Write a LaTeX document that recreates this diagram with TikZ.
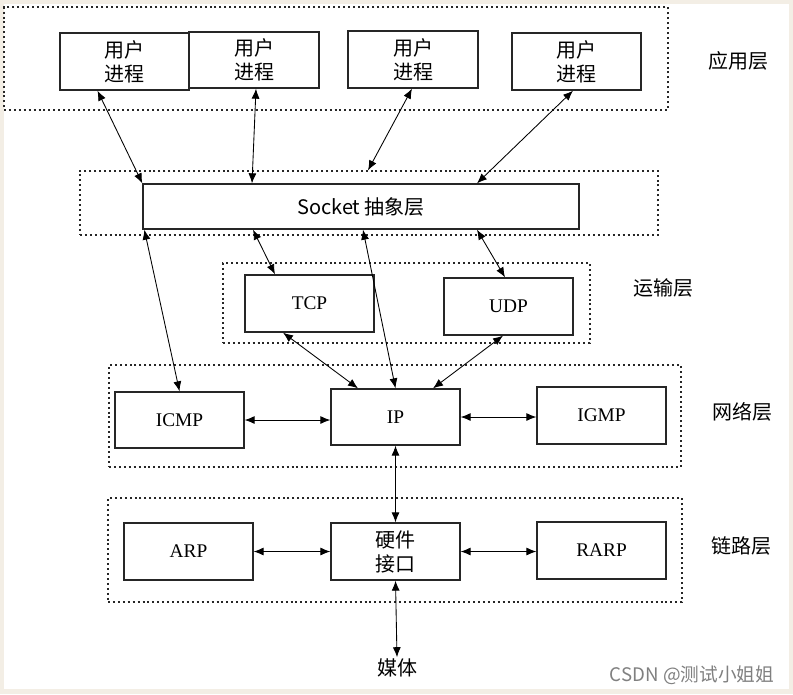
\documentclass[tikz,border=0pt]{standalone}
\usepackage{fontspec}
\setmainfont{Liberation Serif}
\newfontfamily\cjk{Noto Sans CJK SC}
\usetikzlibrary{arrows.meta,calc}

\def\px{0.75pt}
\definecolor{paper}{RGB}{243,238,229}
\colorlet{boxline}{black!85}
\tikzset{>={Latex[length=7.5pt,width=6pt]}}
\tikzstyle{proc}=[draw=boxline,line width=1pt,minimum width=129*\px,minimum height=57*\px,
  inner sep=0pt,align=center,font=\cjk\fontsize{15}{18}\selectfont]
\tikzstyle{proto}=[proc,font=\fontsize{14.5}{16}\selectfont]
\tikzstyle{layer}=[draw=boxline,line width=0.9pt,dash pattern=on 1.5pt off 2.2pt,inner sep=0pt]
\tikzstyle{layername}=[font=\cjk\fontsize{15}{18}\selectfont]
\tikzstyle{link}=[<->,line width=0.65pt]

\begin{document}
\begin{tikzpicture}[x=\px,y=-\px]
  \fill[paper] (0,0) rectangle (793,694);
  \fill[white] (4,4) rectangle (789,689);
  \useasboundingbox (0,0) rectangle (793,694);

  % dotted layer frames
  \node[layer,minimum width=664*\px,minimum height=103*\px] (appL) at (336,58.5) {};
  \node[layer,minimum width=578*\px,minimum height=64*\px] (sockL) at (369,203) {};
  \node[layer,minimum width=367*\px,minimum height=80*\px] (transL) at (406.5,303) {};
  \node[layer,minimum width=572*\px,minimum height=102*\px] (netL) at (395,416) {};
  \node[layer,minimum width=574*\px,minimum height=104*\px] (linkL) at (395,550) {};

  % user processes
  \node[proc] (p1) at (124.5,61.5) {用户\\进程};
  \node[proc,minimum width=130*\px,minimum height=56*\px] (p2) at (254,60) {用户\\进程};
  \node[proc,minimum width=130*\px] (p3) at (413,59.5) {用户\\进程};
  \node[proc] (p4) at (576.5,61.5) {用户\\进程};

  \node[proc,minimum width=436*\px,minimum height=45*\px] (sock) at (361,206.5) {Socket 抽象层};

  \node[proto] (tcp) at (309.5,303.5) {TCP};
  \node[proto] (udp) at (508.5,306.5) {UDP};

  \node[proto,minimum height=56*\px] (icmp) at (179.5,420) {ICMP};
  \node[proto,minimum height=56*\px] (ip) at (395.5,417) {IP};
  \node[proto] (igmp) at (601.5,415.5) {IGMP};

  \node[proto] (arp) at (188.5,551.5) {ARP};
  \node[proc] (hw) at (395.5,551.5) {硬件\\接口};
  \node[proto] (rarp) at (601.5,550.5) {RARP};

  \node[layername,inner sep=1pt] (media) at (397,668) {媒体};

  % layer names
  \node[layername] (nApp) at (738,61) {应用层};
  \node[layername] (nTrans) at (663,288) {运输层};
  \node[layername] (nNet) at (742,412) {网络层};
  \node[layername] (nLink) at (741,546) {链路层};

  \node[font=\cjk\fontsize{14}{16}\selectfont,text=black!50] (mark) at (692,675) {CSDN @测试小姐姐};

  % connectors
  \draw[link] ($(p1.south)+(-27,0)$) -- (sock.north west);
  \draw[link] ($(p2.south)+(2,0)$) -- ($(sock.north)+(-109,0)$);
  \draw[link] ($(p3.south)+(-1,0)$) -- ($(sockL.north)+(-1,0)$);
  \draw[link] ($(p4.south)+(-3.5,0)$) -- ($(sock.north)+(116,0)$);
  \draw[link] ($(sock.south)+(-108,0)$) -- ($(tcp.north)+(-34.5,0)$);
  \draw[link] ($(sock.south)+(2,0)$) -- (ip.north);
  \draw[link] ($(sock.south)+(116,0)$) -- ($(udp.north)+(-3.5,0)$);
  \draw[link] ($(sock.south west)+(2,0)$) -- (icmp.north);
  \draw[link] ($(tcp.south)+(-26.5,0)$) -- ($(ip.north)+(-37.5,0)$);
  \draw[link] ($(udp.south)+(-5.5,0)$) -- ($(ip.north)+(37.5,0)$);
  \draw[link] (icmp.east) -- (ip.west |- icmp.east);
  \draw[link] (ip.east) -- (igmp.west |- ip.east);
  \draw[link] (ip.south) -- (hw.north);
  \draw[link] (arp.east) -- (hw.west);
  \draw[link] (hw.east) -- (rarp.west |- hw.east);
  \draw[link] (hw.south) -- (media.north);
\end{tikzpicture}
\end{document}
